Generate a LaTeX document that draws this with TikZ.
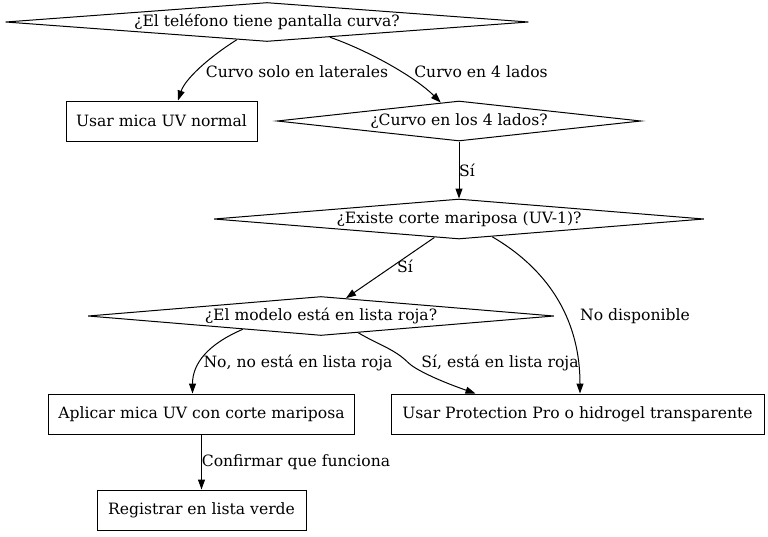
\documentclass[tikz,border=0pt]{standalone}
\usepackage{fontspec}
\setmainfont{DejaVu Serif}
\usetikzlibrary{shapes.geometric,arrows.meta,calc}
\begin{document}
\begin{tikzpicture}[x=1pt,y=-1pt,
  every node/.style={font=\fontsize{15.6pt}{18pt}\selectfont, inner sep=0pt},
  dia/.style n args={3}{draw, diamond, aspect=#3, minimum width=#1pt, minimum height=#2pt, line width=1pt},
  box/.style 2 args={draw, rectangle, minimum width=#1pt, minimum height=#2pt, line width=1pt},
  conn/.style={line width=1pt, -{Triangle[length=10pt,width=7pt]}},
  lab/.style={anchor=center}
]
\useasboundingbox (0,0) rectangle (768,536);

\node[dia={523}{39}{13.4}] (d1) at (267,22) {¿El teléfono tiene pantalla curva?};
\node[box={191}{40}] (b1) at (161.5,121) {Usar mica UV normal};
\node[dia={364}{40}{9.1}] (d2) at (459,121) {¿Curvo en los 4 lados?};
\node[dia={490}{40}{12.25}] (d3) at (459,219) {¿Existe corte mariposa (UV-1)?};
\node[dia={466}{39}{11.95}] (d4) at (321,316) {¿El modelo está en lista roja?};
\node[box={306}{40}] (b2) at (201.5,414) {Aplicar mica UV con corte mariposa};
\node[box={373}{40}] (b3) at (577.5,414) {Usar Protection Pro o hidrogel transparente};
\node[box={209}{40}] (b4) at (201.5,510) {Registrar en lista verde};

\draw[conn] ($(d1.south)!0.115!(d1.west)$) .. controls +(-30,19) and +(7,-21) .. ($(b1.north)+(16.5,0)$);
\draw[conn] ($(d1.south)!0.24!(d1.east)$) .. controls +(40,14) and +(-25,-25) .. ($(d2.north)!0.1!(d2.west)$);
\draw[conn] (d2.south) -- (d3.north);
\draw[conn] ($(d3.south)!0.1!(d3.west)$) -- ($(d4.north)!0.107!(d4.east)$);
\draw[conn] ($(d3.south)!0.135!(d3.east)$) .. controls +(60,35) and +(0,-70) .. ($(b3.north)+(2.5,0)$);
\draw[conn] ($(d4.south)!0.335!(d4.west)$) .. controls +(-35,15) and +(0,-30) .. ($(b2.north)+(-9,0)$);
\draw[conn] ($(d4.south)!0.16!(d4.east)$) .. controls +(20,12) and +(-14,-14) .. ++(50,30) .. controls +(6,6) and +(-40,-14) .. ($(b3.north)+(-102,0)$);
\draw[conn] (b2.south) -- (b4.north);

\node[lab] (l1) at (297,72) {Curvo solo en laterales};
\node[lab] (l2) at (481,72) {Curvo en 4 lados};
\node[lab] (l3) at (467,170) {Sí};
\node[lab] (l4) at (405,266) {Sí};
\node[lab] (l5) at (635,316) {No disponible};
\node[lab] (l6) at (298,363) {No, no está en lista roja};
\node[lab] (l7) at (500,363) {Sí, está en lista roja};
\node[lab] (l8) at (296,462) {Confirmar que funciona};
\end{tikzpicture}
\end{document}
